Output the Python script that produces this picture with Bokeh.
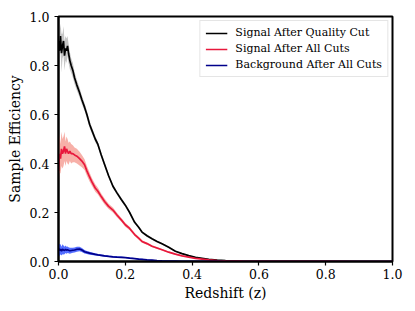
from bokeh.plotting import figure
from bokeh.models import Range1d, FixedTicker, Legend
from bokeh.embed import file_html
from bokeh.resources import INLINE
import numpy as np

# ---- data ----
redshift = [0.000, 0.003, 0.006, 0.009, 0.012, 0.015, 0.018, 0.021, 0.024, 0.027,
            0.030, 0.034, 0.038, 0.043, 0.048, 0.055, 0.063, 0.070, 0.078, 0.085,
            0.093, 0.100, 0.110, 0.118, 0.128, 0.138, 0.150, 0.163, 0.175, 0.188,
            0.200, 0.213, 0.228, 0.240, 0.250, 0.265, 0.280, 0.295, 0.310, 0.330,
            0.350, 0.370, 0.390, 0.410, 0.430, 0.450, 0.475, 0.500, 0.550, 0.600,
            0.700, 0.800, 0.900, 1.000]

sig_quality = [0.90, 0.86, 0.92, 0.85, 0.88, 0.90, 0.84, 0.87, 0.86, 0.88,
               0.85, 0.82, 0.80, 0.78, 0.75, 0.72, 0.69, 0.66, 0.63, 0.60,
               0.56, 0.535, 0.50, 0.478, 0.435, 0.396, 0.35, 0.307, 0.28, 0.253,
               0.23, 0.20, 0.16, 0.14, 0.12, 0.105, 0.093, 0.082, 0.072, 0.058,
               0.042, 0.032, 0.024, 0.017, 0.013, 0.009, 0.006, 0.004, 0.002, 0.001,
               0.0005, 0.0002, 0.0001, 0.0]
sig_quality_err = [0.06, 0.07, 0.05, 0.08, 0.05, 0.06, 0.06, 0.05, 0.05, 0.04,
                   0.04, 0.035, 0.03, 0.03, 0.025, 0.022, 0.02, 0.018, 0.016, 0.015,
                   0.014, 0.013, 0.012, 0.011, 0.010, 0.010, 0.009, 0.008, 0.008, 0.007,
                   0.007, 0.006, 0.006, 0.005, 0.005, 0.005, 0.004, 0.004, 0.004, 0.003,
                   0.003, 0.002, 0.002, 0.002, 0.001, 0.001, 0.001, 0.001, 0.0005, 0.0005,
                   0.0002, 0.0001, 0.0001, 0.0]

sig_all = [0.37, 0.44, 0.42, 0.46, 0.44, 0.45, 0.47, 0.44, 0.46, 0.45,
           0.44, 0.45, 0.44, 0.44, 0.435, 0.43, 0.42, 0.41, 0.395, 0.37,
           0.345, 0.325, 0.30, 0.287, 0.265, 0.245, 0.225, 0.21, 0.19, 0.17,
           0.15, 0.135, 0.11, 0.095, 0.082, 0.073, 0.062, 0.055, 0.048, 0.038,
           0.030, 0.023, 0.018, 0.013, 0.010, 0.007, 0.004, 0.003, 0.0015, 0.001,
           0.0004, 0.0002, 0.0001, 0.0]
sig_all_err = [0.08, 0.08, 0.06, 0.07, 0.06, 0.06, 0.06, 0.05, 0.05, 0.05,
               0.045, 0.04, 0.04, 0.035, 0.03, 0.03, 0.028, 0.025, 0.022, 0.02,
               0.018, 0.016, 0.015, 0.014, 0.013, 0.012, 0.011, 0.010, 0.009, 0.008,
               0.008, 0.007, 0.006, 0.006, 0.005, 0.005, 0.004, 0.004, 0.003, 0.003,
               0.003, 0.002, 0.002, 0.002, 0.001, 0.001, 0.001, 0.001, 0.0005, 0.0005,
               0.0002, 0.0001, 0.0001, 0.0]

bkg_all = [0.055, 0.045, 0.050, 0.042, 0.050, 0.047, 0.045, 0.050, 0.046, 0.048,
           0.046, 0.044, 0.045, 0.046, 0.047, 0.050, 0.051, 0.047, 0.040, 0.037,
           0.034, 0.032, 0.029, 0.027, 0.025, 0.023, 0.021, 0.019, 0.018, 0.017,
           0.016, 0.014, 0.012, 0.010, 0.009, 0.007, 0.006, 0.004, 0.003, 0.002,
           0.0015, 0.001, 0.0008, 0.0005, 0.0004, 0.0003, 0.0002, 0.0001, 0.0001, 0.0,
           0.0, 0.0, 0.0, 0.0]
bkg_all_err = [0.020, 0.025, 0.020, 0.018, 0.020, 0.018, 0.015, 0.015, 0.014, 0.013,
               0.012, 0.012, 0.011, 0.010, 0.010, 0.010, 0.009, 0.008, 0.007, 0.006,
               0.006, 0.005, 0.005, 0.004, 0.004, 0.004, 0.003, 0.003, 0.003, 0.003,
               0.002, 0.002, 0.002, 0.002, 0.002, 0.001, 0.001, 0.001, 0.001, 0.001,
               0.0005, 0.0005, 0.0005, 0.0003, 0.0002, 0.0002, 0.0001, 0.0001, 0.0, 0.0,
               0.0, 0.0, 0.0, 0.0]

tick_values = [0.0, 0.2, 0.4, 0.6, 0.8, 1.0]
tick_labels = ["0.0", "0.2", "0.4", "0.6", "0.8", "1.0"]

series_names = ["Signal After Quality Cut", "Signal After All Cuts", "Background After All Cuts"]

# ---- figure ----
FONT = "DejaVu Serif"
p = figure(width=410, height=305, output_backend="svg", toolbar_location=None,
           x_range=Range1d(0, 1), y_range=Range1d(0, 1),
           min_border_left=58, min_border_right=18, min_border_top=16, min_border_bottom=44)
p.grid.visible = False
p.outline_line_color = "black"
p.outline_line_width = 2
p.background_fill_color = "white"
p.border_fill_color = "white"

z = np.array(redshift)
specs = [
    (np.array(sig_quality), np.array(sig_quality_err), "black", "gray", 0.45, series_names[0]),
    (np.array(sig_all), np.array(sig_all_err), "#e8183c", "#f07060", 0.55, series_names[1]),
    (np.array(bkg_all), np.array(bkg_all_err), "#00008b", "#1a3cff", 0.75, series_names[2]),
]
items = []
for y, e, lc, fc, fa, name in specs:
    p.varea(x=z, y1=np.clip(y - e, 0, None), y2=y + e, fill_color=fc, fill_alpha=fa)
for y, e, lc, fc, fa, name in specs:
    r = p.line(x=z, y=y, line_color=lc, line_width=1.7)
    items.append((name, [r]))

legend = Legend(items=items, location="top_right", margin=4,
                label_text_font=FONT, label_text_font_size="11px",
                label_text_color="black",
                glyph_width=22, glyph_height=12, label_height=12, label_standoff=8,
                spacing=3, padding=5,
                border_line_color="#cccccc", border_line_width=1,
                background_fill_color="white", background_fill_alpha=0.9)
p.add_layout(legend)

for ax in (p.xaxis[0], p.yaxis[0]):
    ax.ticker = FixedTicker(ticks=tick_values)
    ax.major_label_overrides = {v: s for v, s in zip(tick_values, tick_labels)}
    ax.major_label_text_font = FONT
    ax.major_label_text_font_size = "12.5px"
    ax.major_label_text_color = "black"
    ax.axis_label_text_font = FONT
    ax.axis_label_text_font_size = "14px"
    ax.axis_label_text_font_style = "normal"
    ax.axis_label_text_color = "black"
    ax.axis_line_width = 2
    ax.axis_line_color = "black"
    ax.major_tick_line_color = "black"
    ax.major_tick_line_width = 1.2
    ax.major_tick_out = 4
    ax.major_tick_in = 0
    ax.minor_tick_line_color = None

p.xaxis[0].major_label_standoff = 3
p.yaxis[0].major_label_standoff = 5
p.xaxis[0].axis_label = "Redshift (z)"
p.yaxis[0].axis_label = "Sample Efficiency"
p.xaxis[0].axis_label_standoff = 3
p.yaxis[0].axis_label_standoff = 4

open("out.html", "w").write(file_html(p, INLINE))
